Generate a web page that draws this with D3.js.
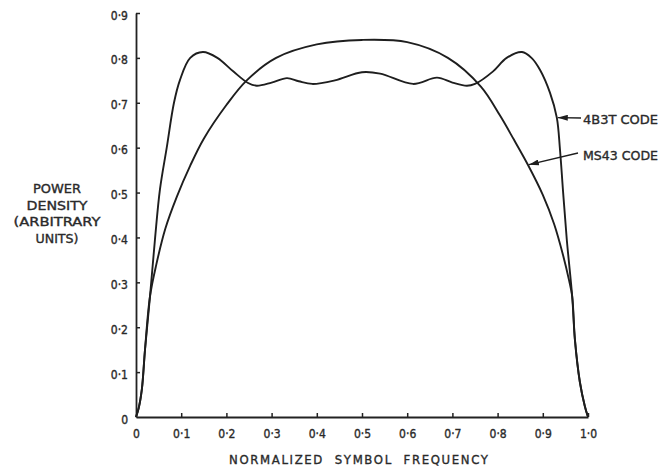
<!DOCTYPE html>
<html>
<head>
<meta charset="utf-8">
<script src="https://cdn.jsdelivr.net/npm/d3@7"></script>
<style>
  body { margin: 0; background: #fff; }
  text { font-family: "Liberation Sans Narrow", "DejaVu Sans Condensed", "Arial Narrow", sans-serif; fill: #2a2a2a; stroke: #2a2a2a; stroke-width: 0.35px; }
</style>
</head>
<body>
<script>
// values (normalized frequency, power density)
var xTicks = [0, 0.1, 0.2, 0.3, 0.4, 0.5, 0.6, 0.7, 0.8, 0.9, 1.0];
var yTicks = [0, 0.1, 0.2, 0.3, 0.4, 0.5, 0.6, 0.7, 0.8, 0.9];
var yTitle = ["POWER", "DENSITY", "(ARBITRARY", "UNITS)"];
var yTitleWidth = [48, 61, 87, 43];

var freq4B3T = [0, 0.006, 0.013, 0.02, 0.031, 0.042, 0.053, 0.068, 0.084, 0.097, 0.12, 0.148, 0.18, 0.215, 0.248, 0.267, 0.3, 0.334, 0.36, 0.39, 0.44, 0.5, 0.54, 0.613, 0.666, 0.7, 0.732, 0.75, 0.79, 0.82, 0.854, 0.875, 0.894, 0.916, 0.931, 0.938, 0.945, 0.953, 0.965, 0.971, 0.982, 0.993, 1.0];
var power4B3T = [0, 0.02, 0.062, 0.151, 0.269, 0.396, 0.507, 0.6, 0.7, 0.75, 0.8, 0.813, 0.8, 0.77, 0.744, 0.738, 0.745, 0.755, 0.748, 0.742, 0.75, 0.768, 0.765, 0.742, 0.756, 0.745, 0.738, 0.742, 0.77, 0.8, 0.813, 0.8, 0.773, 0.722, 0.667, 0.596, 0.5, 0.396, 0.269, 0.173, 0.078, 0.024, 0];

var freqMS43 = [0, 0.006, 0.013, 0.02, 0.031, 0.045, 0.065, 0.09, 0.12, 0.15, 0.2, 0.245, 0.31, 0.4, 0.5, 0.6, 0.69, 0.763, 0.805, 0.836, 0.867, 0.9, 0.925, 0.945, 0.958, 0.965, 0.971, 0.982, 0.993, 1.0];
var powerMS43 = [0, 0.02, 0.062, 0.151, 0.269, 0.34, 0.42, 0.49, 0.56, 0.62, 0.695, 0.75, 0.8, 0.83, 0.84, 0.835, 0.8, 0.736, 0.672, 0.618, 0.562, 0.495, 0.43, 0.36, 0.305, 0.269, 0.173, 0.078, 0.024, 0];

var w = 672, h = 471;
var svg = d3.select("body").append("svg")
  .attr("width", w)
  .attr("height", h);

var x = d3.scaleLinear().domain([0, 1]).range([136, 588]);
var y = d3.scaleLinear().domain([0, 0.9]).range([417, 13]);

function fmt(d) {
  return d === 0 ? "0" : d.toFixed(1).replace(".", "\u00b7");
}

// axes
var xAxis = svg.append("g")
  .attr("transform", "translate(0," + y(0) + ")")
  .call(d3.axisBottom(x).tickValues(xTicks).tickFormat(fmt).tickSize(-4).tickSizeOuter(0).tickPadding(12));
var yAxis = svg.append("g")
  .attr("transform", "translate(" + x(0) + ",0)")
  .call(d3.axisLeft(y).tickValues(yTicks).tickFormat(fmt).tickSize(-4).tickSizeOuter(0).tickPadding(8));

[xAxis, yAxis].forEach(function(a) {
  a.select(".domain").attr("stroke", "#222").attr("stroke-width", 1.8);
  a.selectAll(".tick line").attr("stroke", "#222").attr("stroke-width", 1.5);
  a.selectAll(".tick text")
    .style("font-size", "12px")
    .attr("fill", "#2a2a2a");
});
yAxis.selectAll(".tick text").attr("dy", "0.5em");
// the 0 tick is just the axis corner
yAxis.selectAll(".tick").filter(function(d) { return d === 0; }).select("line").remove();
xAxis.selectAll(".tick").filter(function(d) { return d === 0; }).select("line").remove();

// curves
var line = d3.line()
  .x(function(d) { return x(d[0]); })
  .y(function(d) { return y(d[1]); })
  .curve(d3.curveCatmullRom.alpha(0.5));

var series = [
  d3.zip(freq4B3T, power4B3T),
  d3.zip(freqMS43, powerMS43)
];
svg.selectAll("path.curve")
  .data(series)
  .join("path")
  .attr("class", "curve")
  .attr("d", line)
  .attr("fill", "none")
  .attr("stroke", "#1e1e1e")
  .attr("stroke-width", 1.9);

// labels with arrows
var labels = [
  { text: "4B3T CODE", tx: 583, ty: 124, from: [581, 118], to: [0.931, 0.667] },
  { text: "MS43 CODE", tx: 583, ty: 160, from: [578, 153], to: [0.867, 0.562] }
];
svg.append("defs").append("marker")
  .attr("id", "arr")
  .attr("viewBox", "0 0 10 6")
  .attr("refX", 10).attr("refY", 3)
  .attr("markerWidth", 10).attr("markerHeight", 6)
  .attr("markerUnits", "userSpaceOnUse")
  .attr("orient", "auto")
  .append("path")
  .attr("d", "M0,0L10,3L0,6Z")
  .attr("fill", "#1e1e1e");

labels.forEach(function(l) {
  svg.append("line")
    .attr("x1", l.from[0]).attr("y1", l.from[1])
    .attr("x2", x(l.to[0]) + 1).attr("y2", y(l.to[1]))
    .attr("stroke", "#1e1e1e")
    .attr("stroke-width", 1.3)
    .attr("marker-end", "url(#arr)");
  svg.append("text")
    .attr("x", l.tx).attr("y", l.ty)
    .attr("textLength", 75)
    .attr("lengthAdjust", "spacingAndGlyphs")
    .style("font-size", "13px")
    .text(l.text);
});

// y title
svg.selectAll("text.ytitle")
  .data(yTitle)
  .join("text")
  .attr("class", "ytitle")
  .attr("x", 57)
  .attr("y", function(d, i) { return 193 + i * 16.5; })
  .attr("text-anchor", "middle")
  .attr("textLength", function(d, i) { return yTitleWidth[i]; })
  .attr("lengthAdjust", "spacingAndGlyphs")
  .style("font-size", "13px")
  .text(function(d) { return d; });

// x title
svg.append("text")
  .attr("x", 229)
  .attr("y", 464)
  .attr("textLength", 259)
  .attr("lengthAdjust", "spacing")
  .style("font-size", "13px")
  .style("white-space", "pre")
  .text("NORMALIZED  SYMBOL  FREQUENCY");
</script>
</body>
</html>
